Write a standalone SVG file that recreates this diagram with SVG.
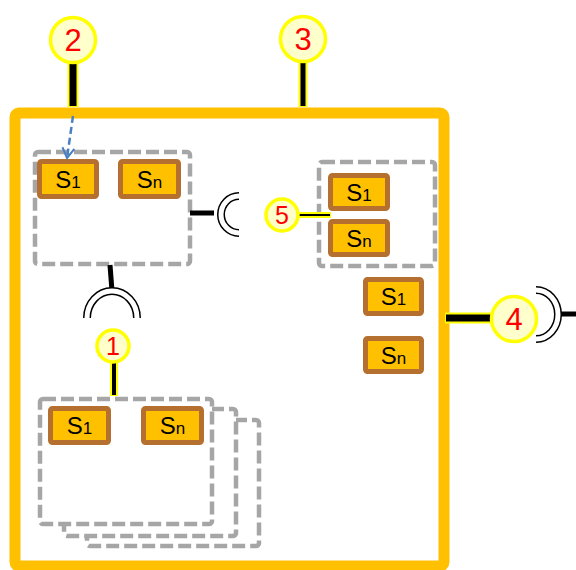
<svg xmlns="http://www.w3.org/2000/svg" width="576" height="570" viewBox="0 0 576 570">
<style>
.frame{fill:#fff;stroke:#ffc000;stroke-width:11}
.grp{fill:#fff;stroke:#a6a6a6;stroke-width:4.5;stroke-dasharray:13 5}
.box{fill:#ffc000;stroke:#b5702f;stroke-width:5}
.bt{font-family:"Liberation Sans",Arial,sans-serif;font-size:24px;fill:#000;text-anchor:middle}
.sub{font-size:17px}
.badge{fill:#ffffcc;stroke:#ffff00;stroke-width:3.5}
.bn{font-family:"Liberation Sans",Arial,sans-serif;fill:#ff0000;text-anchor:middle}
.lo{stroke:#ffff00;fill:none}
.li{stroke:#000;fill:none}
.so{fill:none;stroke:#000;stroke-width:8}
.si{fill:none;stroke:#fff;stroke-width:5}
</style>
<defs>
<marker id="arr" markerWidth="16" markerHeight="16" refX="11" refY="7" orient="auto" markerUnits="userSpaceOnUse">
<path d="M1,1 L11,7 L1,13" fill="none" stroke="#4a7fc1" stroke-width="2"/>
</marker>
</defs>
<g id="frame"><rect class="frame" x="15" y="113" width="429" height="453" rx="4"/></g>

<g id="group-topleft">
<rect class="grp" x="35" y="152" width="155" height="112" rx="3"/>
<rect class="box" x="39.5" y="161.5" width="57" height="35" rx="2"/>
<text class="bt" x="68" y="188">S<tspan class="sub">1</tspan></text>
<rect class="box" x="120.5" y="161.5" width="58" height="35" rx="2"/>
<text class="bt" x="149.5" y="188">S<tspan class="sub">n</tspan></text>
</g>

<g id="group-right">
<rect class="grp" x="319" y="162" width="116" height="104" rx="3"/>
<rect class="box" x="330.5" y="175.5" width="57" height="33" rx="2"/>
<text class="bt" x="359" y="200.5">S<tspan class="sub">1</tspan></text>
<rect class="box" x="330.5" y="221.5" width="57" height="33" rx="2"/>
<text class="bt" x="359" y="246.5">S<tspan class="sub">n</tspan></text>
</g>

<g id="free-s1">
<rect class="box" x="365.5" y="279.5" width="56" height="34" rx="2"/>
<text class="bt" x="393.5" y="305">S<tspan class="sub">1</tspan></text>
</g>
<g id="free-sn">
<rect class="box" x="365.5" y="338.5" width="56" height="33" rx="2"/>
<text class="bt" x="393.5" y="363.5">S<tspan class="sub">n</tspan></text>
</g>

<g id="group-bottom">
<rect class="grp" x="87" y="420" width="172" height="126" rx="3"/>
<rect class="grp" x="64" y="409" width="172" height="127" rx="3"/>
<rect class="grp" x="40" y="399" width="172" height="125" rx="3"/>
<rect class="box" x="50.5" y="408.5" width="58" height="34" rx="2"/>
<text class="bt" x="79.5" y="434">S<tspan class="sub">1</tspan></text>
<rect class="box" x="143.5" y="408.5" width="58" height="34" rx="2"/>
<text class="bt" x="172.5" y="434">S<tspan class="sub">n</tspan></text>
</g>

<g id="connectors">
<line class="lo" x1="73" y1="62" x2="73" y2="107" stroke-width="11"/>
<line class="li" x1="73" y1="63" x2="73" y2="106" stroke-width="7"/>
<line class="lo" x1="303" y1="62" x2="303" y2="107" stroke-width="9"/>
<line class="li" x1="303" y1="63" x2="303" y2="106" stroke-width="5"/>
<line x1="73" y1="116" x2="67" y2="158" stroke="#4a7fc1" stroke-width="2.5" stroke-dasharray="7 4" marker-end="url(#arr)"/>
<line class="li" x1="190" y1="213" x2="214" y2="213" stroke-width="5"/>
<path class="so" d="M239,196 A18,18.5 0 0 0 239,233"/>
<path class="si" d="M239,196 A18,18.5 0 0 0 239,233"/>
<line class="li" x1="110" y1="265" x2="112" y2="291" stroke-width="5"/>
<path class="so" d="M87,318 A25,27 0 0 1 137,318"/>
<path class="si" d="M87,318 A25,27 0 0 1 137,318"/>
<line class="lo" x1="114" y1="362" x2="114" y2="396" stroke-width="8"/>
<line class="li" x1="114" y1="363" x2="114" y2="395" stroke-width="4"/>
<line class="lo" x1="298" y1="215" x2="331" y2="215" stroke-width="6"/>
<line class="li" x1="299" y1="215" x2="330" y2="215" stroke-width="2"/>
<line class="lo" x1="445" y1="318" x2="492" y2="318" stroke-width="11"/>
<line class="li" x1="446" y1="318" x2="492" y2="318" stroke-width="7"/>
<path class="so" d="M536,290 A22,24.5 0 0 1 536,339"/>
<path class="si" d="M536,290 A22,24.5 0 0 1 536,339"/>
<line class="li" x1="561" y1="314" x2="576" y2="314" stroke-width="5"/>
</g>

<g id="badge-2"><circle class="badge" cx="73" cy="40" r="22.5"/><text class="bn" x="73" y="51" font-size="31">2</text></g>
<g id="badge-3"><circle class="badge" cx="303" cy="39" r="22.5"/><text class="bn" x="303" y="50" font-size="31">3</text></g>
<g id="badge-1"><circle class="badge" cx="113" cy="346" r="16"/><text class="bn" x="113" y="355" font-size="25">1</text></g>
<g id="badge-5"><circle class="badge" cx="282" cy="215" r="16"/><text class="bn" x="282" y="224" font-size="25">5</text></g>
<g id="badge-4"><circle class="badge" cx="514" cy="319" r="22.5"/><text class="bn" x="514" y="330" font-size="31">4</text></g>
</svg>
